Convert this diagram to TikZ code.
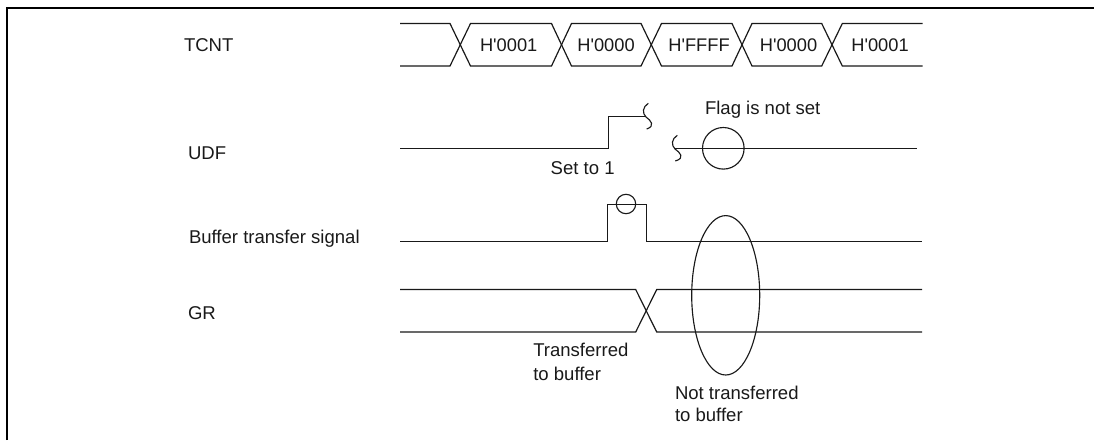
\documentclass[tikz,border=0pt]{standalone}
\usepackage{fontspec}
\newfontfamily\rawf{Liberation Sans}
\tikzset{
  wave/.style={line width=0.9pt,line join=miter,black!90},
  mark circle/.style={line width=0.85pt,black!90},
  frameline/.style={line width=1.5pt,black},
  lbl/.style={inner sep=0pt,outer sep=0pt,anchor=base west,font=\rawf\fontsize{13.9}{16}\selectfont,text=black!90},
  val/.style={inner sep=0pt,outer sep=0pt,anchor=base,font=\rawf\fontsize{13.7}{16}\selectfont,text=black!90}
}
\begin{document}
\begin{tikzpicture}[x=0.75pt,y=-0.75pt]
\useasboundingbox (0,0) rectangle (1094,440);
% frame
\draw[frameline] (7,440) -- (7,8) -- (1094,8);
% TCNT bus
\draw[wave] (400,23.5) -- (450,23.5) -- (470.5,66) -- (551.5,66) -- (571.5,23.5) -- (641,23.5) -- (661.5,66) -- (732,66) -- (752,23.5) -- (821.7,23.5) -- (842.3,66) -- (922.7,66);
\draw[wave] (400,66) -- (450,66) -- (470.5,23.5) -- (551.5,23.5) -- (571.5,66) -- (641,66) -- (661.5,23.5) -- (732,23.5) -- (752,66) -- (821.7,66) -- (842.3,23.5) -- (922.7,23.5);
% UDF
\draw[wave] (400,148.5) -- (608.5,148.5) -- (608.5,116.5) -- (646,116.5);
\draw[mark circle] (648.3,103.3) .. controls (642.5,107) and (642,113) .. (646,117) .. controls (651,120.5) and (655.5,126) .. (646.7,129);
\draw[mark circle] (677.3,135.3) .. controls (671.5,139) and (671,145) .. (675,149) .. controls (680,152.5) and (685.5,158) .. (675.3,161);
\draw[wave] (675,148.5) -- (917,148.5);
\draw[mark circle] (723.3,148.3) circle (20.8);
% Buffer transfer signal
\draw[wave] (400,241.5) -- (607.5,241.5) -- (607.5,204.5) -- (646.5,204.5) -- (646.5,241.5) -- (922,241.5);
\draw[mark circle] (626,204) circle (9.7);
% GR
\draw[wave] (400,289.5) -- (635.7,289.5) -- (656.7,332) -- (922,332);
\draw[wave] (400,332) -- (635.7,332) -- (656.7,289.5) -- (922,289.5);
\draw[mark circle] (725.7,295.3) ellipse [x radius=34,y radius=79.7];
% labels
\node[lbl] (tcnt) at (184,51) {TCNT};
\node[lbl] (udf) at (188,159) {UDF};
\node[lbl] (bts) at (189,243) {Buffer transfer signal};
\node[lbl] (gr) at (188,319) {GR};
\node[val] (v1) at (508.7,51.7) {H'0001};
\node[val] (v2) at (606,51.7) {H'0000};
\node[val] (v3) at (699,51.7) {H'FFFF};
\node[val] (v4) at (788.5,51.7) {H'0000};
\node[val] (v5) at (880,51.7) {H'0001};
\node[lbl] (flag) at (705,114.3) {Flag is not set};
\node[lbl] (set) at (550.7,174) {Set to 1};
\node[lbl] (t1) at (533.3,356.7) {Transferred};
\node[lbl] (t2) at (533.3,380) {to buffer};
\node[lbl] (n1) at (675,399.3) {Not transferred};
\node[lbl] (n2) at (675,421.7) {to buffer};
\end{tikzpicture}
\end{document}
